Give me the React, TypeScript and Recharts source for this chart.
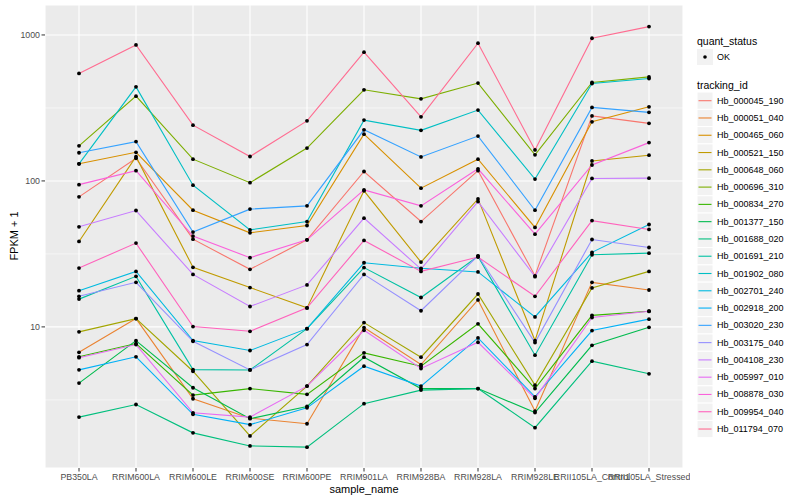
import React from "react";
import { LineChart, Line, XAxis, YAxis, CartesianGrid, ReferenceLine } from "recharts";

const samples = [
  "PB350LA", "RRIM600LA", "RRIM600LE", "RRIM600SE", "RRIM600PE", "RRIM901LA",
  "RRIM928BA", "RRIM928LA", "RRIM928LE", "RRII105LA_Control", "RRII105LA_Stressed",
];

const trackingIds = [
  "Hb_000045_190", "Hb_000051_040", "Hb_000465_060", "Hb_000521_150", "Hb_000648_060",
  "Hb_000696_310", "Hb_000834_270", "Hb_001377_150", "Hb_001688_020", "Hb_001691_210",
  "Hb_001902_080", "Hb_002701_240", "Hb_002918_200", "Hb_003020_230", "Hb_003175_040",
  "Hb_004108_230", "Hb_005997_010", "Hb_008878_030", "Hb_009954_040", "Hb_011794_070",
];

const colors = [
  "#F8766D", "#EA8331", "#D89000", "#C09B00", "#A3A500", "#7CAE00", "#39B600",
  "#00BB4E", "#00BF7D", "#00C1A3", "#00BFC4", "#00BAE0", "#00B0F6", "#35A2FF",
  "#9590FF", "#C77CFF", "#E76BF3", "#FA62DB", "#FF62BC", "#FF6C91",
];

// FPKM + 1 per sample, same order as samples
const hb000045_190 = [77.8, 143, 39.9, 24.8, 39.5, 116, 52.7, 117.6, 22.4, 279, 248];
const hb000051_040 = [6.7, 11.4, 3.22, 2.37, 2.17, 9.89, 5.52, 15.3, 2.65, 20.2, 17.9];
const hb000465_060 = [131, 157, 63, 44.1, 49.5, 209, 89.2, 141, 48, 254, 322];
const hb000521_150 = [38.5, 146.6, 25.6, 18.6, 13.5, 85.5, 27.8, 75.3, 8.06, 137, 150];
const hb000648_060 = [9.25, 11.4, 4.97, 1.79, 3.93, 10.7, 6.2, 16.8, 3.99, 18.5, 24.0];
const hb000696_310 = [174, 381, 141, 97.3, 168, 421, 365, 468, 151, 473, 516];
const hb000834_270 = [6.24, 7.69, 3.41, 3.78, 3.45, 6.64, 5.38, 10.5, 3.78, 12.0, 12.8];
const hb001377_150 = [4.12, 8.05, 3.83, 2.35, 2.85, 6.2, 3.78, 3.78, 2.59, 7.48, 9.94];
const hb001688_020 = [2.41, 2.94, 1.88, 1.53, 1.5, 2.98, 3.69, 3.78, 2.04, 5.82, 4.77];
const hb001691_210 = [15.5, 22.2, 5.1, 5.07, 9.73, 25.5, 15.9, 30.4, 6.4, 31.2, 32.0];
const hb001902_080 = [131, 441, 93.5, 46.2, 52.7, 261, 222, 306, 103, 465, 503];
const hb002701_240 = [17.7, 24, 8.06, 6.89, 9.73, 27.5, 25.2, 23.8, 11.7, 32.4, 50.3];
const hb002918_200 = [5.08, 6.24, 2.52, 2.14, 2.79, 5.38, 3.93, 8.41, 3.32, 9.44, 11.3];
const hb003020_230 = [156, 186, 44.6, 64.1, 67.5, 224, 146, 203, 63, 319, 295];
const hb003175_040 = [16.2, 20.2, 7.97, 5.07, 7.57, 22.9, 12.9, 30.7, 7.81, 39.7, 35.0];
const hb004108_230 = [48.5, 62.7, 22.9, 13.8, 19.4, 55.6, 24.9, 72.2, 22.1, 104, 104.5];
const hb005997_010 = [6.15, 7.57, 2.58, 2.41, 3.93, 9.48, 5.19, 7.85, 3.24, 11.6, 12.8];
const hb008878_030 = [94.3, 117.6, 41.9, 29.8, 39.5, 86.8, 67.5, 121, 43.2, 128.6, 183];
const hb009954_040 = [25.3, 37.5, 10.05, 9.33, 13.5, 39.1, 24, 30.1, 16.2, 53.5, 46.5];
const hb011794_070 = [545, 854, 241, 147, 258, 762, 275, 878, 163, 949, 1141];

const seriesValues = [
  hb000045_190, hb000051_040, hb000465_060, hb000521_150, hb000648_060,
  hb000696_310, hb000834_270, hb001377_150, hb001688_020, hb001691_210,
  hb001902_080, hb002701_240, hb002918_200, hb003020_230, hb003175_040,
  hb004108_230, hb005997_010, hb008878_030, hb009954_040, hb011794_070,
];

const yTicks = [10, 100, 1000];
const yMinor = [3.1623, 31.623, 316.23];

const rows = samples.map((s, i) => {
  const row: Record<string, string | number> = { sample: s };
  trackingIds.forEach((id, k) => {
    row[id] = seriesValues[k][i];
  });
  return row;
});

const FONT = "'Liberation Sans', Arial, Helvetica, sans-serif";

const YTick = (props: any) => {
  const { y, payload } = props;
  return (
    <g>
      <text x={40} y={y} dy="0.35em" textAnchor="end" fontSize={8.8} fill="#4D4D4D" fontFamily={FONT}>
        {payload.value}
      </text>
      <line x1={41.5} x2={45} y1={y} y2={y} stroke="#333333" strokeWidth={1} />
    </g>
  );
};

function LegendPanel() {
  const x0 = 7;
  return (
    <svg width={110} height={500} style={{ position: "absolute", left: 690, top: 0 }}>
      <text x={x0} y={41} dominantBaseline="central" fontSize={10.5} fontFamily={FONT} fill="#000">
        quant_status
      </text>
      <rect x={x0} y={49} width={16} height={16} fill="#F2F2F2" />
      <circle cx={x0 + 8} cy={57} r={1.8} fill="#000" />
      <text x={x0 + 20} y={57} dominantBaseline="central" fontSize={9} fontFamily={FONT} fill="#000">
        OK
      </text>
      <text x={x0} y={85} dominantBaseline="central" fontSize={10.5} fontFamily={FONT} fill="#000">
        tracking_id
      </text>
      {trackingIds.map((id, i) => {
        const cy = 100.7 + i * 17.28;
        return (
          <g key={id}>
            <rect x={x0} y={cy - 8.64} width={16} height={17.28} fill="#F2F2F2" stroke="#fff" strokeWidth={1} />
            <line x1={x0 + 1.5} x2={x0 + 14.5} y1={cy} y2={cy} stroke={colors[i]} strokeWidth={1.1} />
            <text x={x0 + 20} y={cy} dominantBaseline="central" fontSize={9} fontFamily={FONT} fill="#000">
              {id}
            </text>
          </g>
        );
      })}
    </svg>
  );
}

export default function App() {
  return (
    <div style={{ position: "absolute", left: 0, top: 0, width: 800, height: 500, background: "#fff", fontFamily: FONT }}>
      <LineChart width={690} height={500} data={rows} margin={{ top: 5, right: 7, bottom: 0, left: 0 }}>
        <CartesianGrid fill="#EBEBEB" stroke="#FFFFFF" strokeWidth={1.07} />
        {yMinor.map((v) => (
          <ReferenceLine key={v} y={v} stroke="#FFFFFF" strokeWidth={0.55} />
        ))}
        <XAxis
          dataKey="sample"
          scale="point"
          padding={{ left: 34, right: 34 }}
          height={32}
          interval={0}
          axisLine={false}
          tickSize={3.5}
          tickMargin={2.5}
          tickLine={{ stroke: "#333333" }}
          tick={{ fontSize: 8.8, fill: "#4D4D4D", fontFamily: FONT }}
          label={{ value: "sample_name", position: "insideBottom", offset: 7, fontSize: 11, fill: "#000", fontFamily: FONT }}
        />
        <YAxis
          type="number"
          scale="log"
          domain={[1.08, 1604]}
          allowDataOverflow
          ticks={yTicks}
          width={45}
          axisLine={false}
          tickLine={false}
          tick={<YTick />}
        />
        {trackingIds.map((id, i) => (
          <Line
            key={id}
            dataKey={id}
            stroke={colors[i]}
            strokeWidth={1.1}
            dot={false}
            activeDot={false}
            type="linear"
            isAnimationActive={false}
          />
        ))}
        {trackingIds.map((id) => (
          <Line
            key={id + "_pt"}
            dataKey={id}
            stroke="none"
            dot={{ r: 1.9, fill: "#000", stroke: "none" }}
            activeDot={false}
            legendType="none"
            isAnimationActive={false}
          />
        ))}
      </LineChart>
      <div
        style={{
          position: "absolute",
          left: 14,
          top: 236,
          transform: "translate(-50%, -50%) rotate(-90deg)",
          fontSize: 11,
          whiteSpace: "nowrap",
          color: "#000",
        }}
      >
        FPKM + 1
      </div>
      <LegendPanel />
    </div>
  );
}
